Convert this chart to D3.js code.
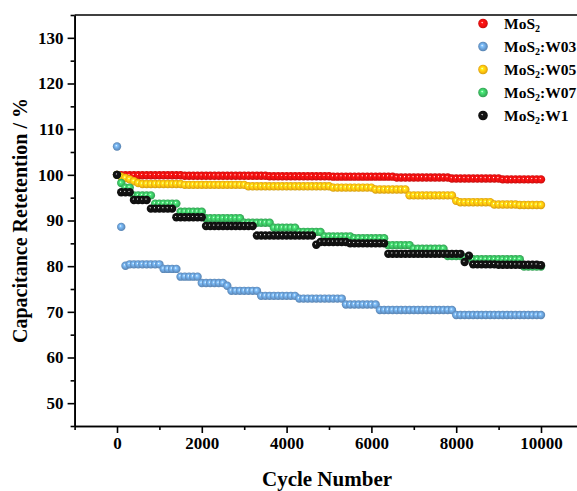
<!DOCTYPE html>
<html>
<head>
<meta charset="utf-8">
<script src="https://cdn.jsdelivr.net/npm/d3@7"></script>
<style>
  body { margin: 0; background: #fff; }
  svg { display: block; font-family: "Liberation Serif", "Times New Roman", serif; font-weight: bold; }
</style>
</head>
<body>
<svg id="chart" width="577" height="491"></svg>
<script>
// cycle number of every point (one every 100 cycles)
const cycles = d3.range(0, 10001, 100);

const seriesNames = ["MoS2", "MoS2:W03", "MoS2:W05", "MoS2:W07", "MoS2:W1"];
const seriesColors = ["#f01010", "#6a9fd6", "#ffc010", "#3cc163", "#111111"];

const mos2 = [
  100, 99.9, 99.9, 99.9, 99.9, 99.9, 99.9, 99.9, 99.9, 99.9,
  99.9, 99.9, 99.9, 99.9, 99.9, 99.9, 99.8, 99.8, 99.8, 99.8,
  99.8, 99.8, 99.8, 99.8, 99.8, 99.8, 99.8, 99.8, 99.8, 99.8,
  99.8, 99.8, 99.8, 99.8, 99.8, 99.8, 99.7, 99.7, 99.7, 99.7,
  99.7, 99.7, 99.7, 99.7, 99.7, 99.7, 99.7, 99.7, 99.7, 99.7,
  99.7, 99.6, 99.6, 99.6, 99.6, 99.6, 99.6, 99.6, 99.6, 99.6,
  99.6, 99.6, 99.6, 99.6, 99.6, 99.6, 99.4, 99.4, 99.4, 99.4,
  99.4, 99.4, 99.4, 99.4, 99.4, 99.4, 99.4, 99.4, 99.4, 99.2,
  99.2, 99.2, 99.2, 99.2, 99.2, 99.2, 99.2, 99.2, 99.2, 99.2,
  99.2, 99.0, 99.0, 99.0, 99.0, 99.0, 99.0, 99.0, 99.0, 99.0,
  99.0
];

const w03 = [
  106.2, 88.6, 80.1, 80.4, 80.4, 80.4, 80.4, 80.4, 80.4, 80.4,
  80.4, 79.4, 79.4, 79.4, 79.4, 77.7, 77.7, 77.7, 77.7, 77.7,
  76.3, 76.3, 76.3, 76.3, 76.3, 76.3, 75.7, 74.6, 74.6, 74.6,
  74.6, 74.6, 74.6, 74.6, 73.5, 73.5, 73.5, 73.5, 73.5, 73.5,
  73.5, 73.5, 73.5, 72.9, 72.9, 72.9, 72.9, 72.9, 72.9, 72.9,
  72.9, 72.9, 72.9, 72.9, 71.6, 71.6, 71.6, 71.6, 71.6, 71.6,
  71.6, 71.6, 70.4, 70.4, 70.4, 70.4, 70.4, 70.4, 70.4, 70.4,
  70.4, 70.4, 70.4, 70.4, 70.4, 70.4, 70.4, 70.4, 70.4, 70.4,
  69.3, 69.3, 69.3, 69.3, 69.3, 69.3, 69.3, 69.3, 69.3, 69.3,
  69.3, 69.3, 69.3, 69.3, 69.3, 69.3, 69.3, 69.3, 69.3, 69.3,
  69.3
];

const w05 = [
  100, 99.6, 99.3, 99.0, 98.6, 98.2, 98.0, 98.0, 98.0, 98.0,
  98.0, 98.0, 98.0, 98.0, 98.0, 98.0, 97.8, 97.8, 97.8, 97.8,
  97.8, 97.8, 97.8, 97.8, 97.8, 97.8, 97.8, 97.8, 97.8, 97.8,
  97.8, 97.5, 97.5, 97.5, 97.5, 97.5, 97.5, 97.5, 97.5, 97.5,
  97.5, 97.5, 97.5, 97.5, 97.5, 97.5, 97.5, 97.5, 97.5, 97.5,
  97.5, 97.2, 97.2, 97.2, 97.2, 97.2, 97.2, 97.2, 97.2, 97.2,
  97.2, 96.8, 96.8, 96.8, 96.8, 96.8, 96.8, 96.8, 96.8, 95.5,
  95.5, 95.5, 95.5, 95.5, 95.5, 95.5, 95.5, 95.5, 95.5, 95.5,
  94.3, 94.0, 94.0, 94.0, 94.0, 94.0, 94.0, 94.0, 94.0, 93.5,
  93.5, 93.5, 93.5, 93.5, 93.5, 93.4, 93.4, 93.4, 93.4, 93.4,
  93.4
];

const w07 = [
  100, 98.2, 97.2, 97.2, 95.5, 95.5, 95.5, 95.5, 95.5, 93.7,
  93.7, 93.7, 93.7, 93.7, 93.7, 91.9, 91.9, 91.9, 91.9, 91.9,
  91.9, 90.5, 90.5, 90.5, 90.5, 90.5, 90.5, 90.5, 90.5, 90.5,
  89.5, 89.5, 89.5, 89.5, 89.5, 89.5, 89.5, 88.4, 88.4, 88.4,
  88.4, 88.4, 88.4, 87.5, 87.5, 87.5, 87.5, 87.5, 87.5, 86.5,
  86.5, 86.5, 86.5, 86.5, 86.5, 86.5, 86.1, 86.1, 86.1, 86.1,
  86.1, 86.1, 86.1, 86.1, 84.6, 84.6, 84.6, 84.6, 84.6, 84.6,
  83.8, 83.8, 83.8, 83.8, 83.8, 83.8, 83.8, 83.8, 82.2, 82.2,
  82.2, 82.2, 81.9, 81.9, 81.5, 81.5, 81.5, 81.5, 81.5, 81.5,
  81.5, 81.5, 81.5, 81.5, 81.5, 81.5, 79.9, 79.9, 79.9, 79.9,
  79.9
];

const w1 = [
  100, 96.2, 96.2, 96.2, 94.5, 94.5, 94.5, 94.5, 92.6, 92.6,
  92.6, 92.6, 92.6, 92.6, 90.7, 90.7, 90.7, 90.7, 90.7, 90.7,
  90.7, 88.8, 88.8, 88.8, 88.8, 88.8, 88.8, 88.8, 88.8, 88.8,
  88.8, 88.8, 88.8, 86.7, 86.7, 86.7, 86.7, 86.7, 86.7, 86.7,
  86.7, 86.7, 86.7, 86.7, 86.7, 86.7, 86.7, 84.7, 85.3, 85.3,
  85.3, 85.3, 85.3, 85.3, 85.3, 85.0, 85.0, 85.0, 85.0, 85.0,
  85.0, 85.0, 85.0, 85.0, 82.7, 82.7, 82.7, 82.7, 82.7, 82.7,
  82.7, 82.7, 82.7, 82.7, 82.7, 82.7, 82.7, 82.7, 82.7, 82.7,
  82.7, 82.7, 80.9, 82.3, 80.4, 80.4, 80.4, 80.4, 80.4, 80.4,
  80.3, 80.3, 80.3, 80.3, 80.3, 80.3, 80.3, 80.3, 80.3, 80.3,
  80.2
];

const seriesValues = [mos2, w03, w05, w07, w1];

const xMajorTicks = [0, 2000, 4000, 6000, 8000, 10000];
const xMinorTicks = [-1000, 1000, 3000, 5000, 7000, 9000, 11000];
const yMajorTicks = [50, 60, 70, 80, 90, 100, 110, 120, 130];
const yMinorTicks = [45, 55, 65, 75, 85, 95, 105, 115, 125, 135];

const dims = { left: 74.6, right: 583.4, top: 15, bottom: 426, r: 4.2 };

const svg = d3.select("#chart");
const xScale = d3.scaleLinear().domain([-1000, 11000]).range([dims.left, dims.right]);
const yScale = d3.scaleLinear().domain([45, 135]).range([dims.bottom, dims.top]);

function initGradients() {
    const defs = svg.append("defs");
    seriesColors.forEach(function(c, i) {
        const grad = defs.append("radialGradient")
            .attr("id", "ball" + i)
            .attr("cx", "50%").attr("cy", "50%").attr("r", "55%")
            .attr("fx", "40%").attr("fy", "38%");
        const base = d3.color(c);
        grad.append("stop").attr("offset", "0%").attr("stop-color", "#ffffff");
        grad.append("stop").attr("offset", "22%").attr("stop-color", base.brighter(0.6));
        grad.append("stop").attr("offset", "60%").attr("stop-color", base);
        grad.append("stop").attr("offset", "100%").attr("stop-color", base.darker(0.7));
    });
}

function appendPoints() {
    seriesValues.forEach(function(vals, i) {
        svg.append("g")
            .attr("class", "series")
            .selectAll("circle")
            .data(vals)
            .enter().append("circle")
            .attr("cx", function(d, k) { return xScale(cycles[k]); })
            .attr("cy", function(d) { return yScale(d); })
            .attr("r", dims.r)
            .attr("fill", "url(#ball" + i + ")");
    });
}

function appendAxes() {
    const fmt = d3.format("d");
    const xAxis = d3.axisBottom(xScale).tickValues(xMajorTicks).tickFormat(fmt).tickSize(7).tickSizeOuter(0).tickPadding(4);
    const xMinor = d3.axisBottom(xScale).tickValues(xMinorTicks).tickSize(4).tickSizeOuter(0).tickFormat("");
    const yAxis = d3.axisLeft(yScale).tickValues(yMajorTicks).tickFormat(fmt).tickSize(7).tickSizeOuter(0).tickPadding(4);
    const yMinor = d3.axisLeft(yScale).tickValues(yMinorTicks).tickSize(4).tickSizeOuter(0).tickFormat("");

    [xAxis, xMinor].forEach(function(ax) {
        svg.append("g")
            .attr("class", "axis")
            .attr("transform", "translate(0," + dims.bottom + ")")
            .call(ax);
    });
    [yAxis, yMinor].forEach(function(ax) {
        svg.append("g")
            .attr("class", "axis")
            .attr("transform", "translate(" + dims.left + ",0)")
            .call(ax);
    });

    svg.selectAll(".axis")
        .attr("font-family", "Liberation Serif")
        .attr("font-size", 17)
        .attr("font-weight", "bold");
    svg.selectAll(".domain, .tick line")
        .attr("stroke", "#000")
        .attr("stroke-width", 1.6);
    svg.selectAll(".tick text")
        .attr("fill", "#000");

    // top and right frame lines
    svg.append("line")
        .attr("x1", dims.left).attr("x2", dims.right)
        .attr("y1", dims.top).attr("y2", dims.top)
        .attr("stroke", "#000").attr("stroke-width", 1.6);
    svg.append("line")
        .attr("x1", dims.right).attr("x2", dims.right)
        .attr("y1", dims.top).attr("y2", dims.bottom)
        .attr("stroke", "#000").attr("stroke-width", 1.6);
}

function appendLabels() {
    svg.append("text")
        .attr("text-anchor", "middle")
        .attr("x", 327)
        .attr("y", 486)
        .style("font-size", "21px")
        .text("Cycle Number");

    svg.append("text")
        .attr("text-anchor", "middle")
        .attr("transform", "translate(27," + (dims.top + dims.bottom) / 2 + ") rotate(-90)")
        .style("font-size", "20px")
        .text("Capacitance Retetention / %");
}

function appendLegend() {
    const legend = svg.selectAll(".lineLegend").data(seriesNames)
        .enter().append("g")
        .attr("class", "lineLegend")
        .attr("transform", function(d, i) {
            return "translate(483," + (23.5 + i * 23) + ")";
        });

    legend.append("circle")
        .attr("r", 4.8)
        .attr("fill", function(d, i) { return "url(#ball" + i + ")"; });

    // subscript 2 after "MoS"
    const txt = legend.append("text")
        .attr("x", 21)
        .attr("y", 5.5)
        .style("font-size", "15.5px");
    txt.append("tspan").text("MoS");
    txt.append("tspan").attr("dy", 3).style("font-size", "10px").text("2");
    txt.append("tspan").attr("dy", -3).text(function(d) { return d.slice(4); });
}

initGradients();
appendAxes();
appendPoints();
appendLabels();
appendLegend();
</script>
</body>
</html>
